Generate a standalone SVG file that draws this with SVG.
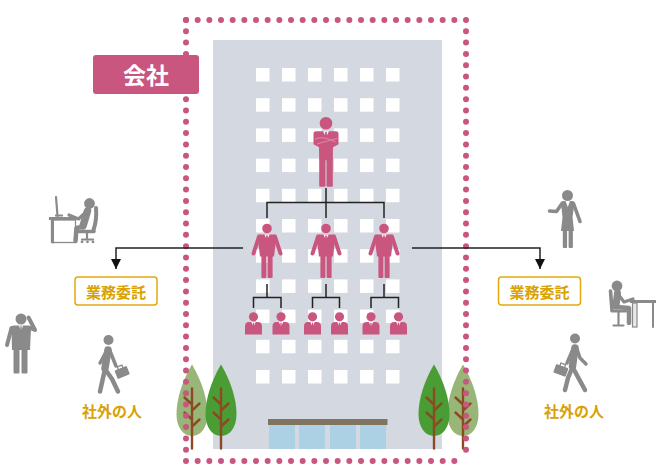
<svg xmlns="http://www.w3.org/2000/svg" width="658" height="464" viewBox="0 0 658 464">
  <style>
    .pink { fill: #c9567f; }
    .grey { fill: #8a8a8a; }
    .gstroke { stroke: #8a8a8a; stroke-linecap: round; stroke-linejoin: round; fill: none; }
    .win { fill: #ffffff; }
    .glass { fill: #acd0e4; }
    .dots { stroke: #c9567f; stroke-width: 6; stroke-linecap: round; fill: none; }
    .wire { stroke: #222222; stroke-width: 1.5; fill: none; }
    .trunk { stroke: #8b4a22; stroke-width: 2.4; stroke-linecap: round; fill: none; }
    .box { fill: #ffffff; stroke: #e3a90d; stroke-width: 1.5; }
    .gold { fill: #d9a200; font-family: "Noto Sans CJK JP", "Noto Sans", sans-serif; font-size: 15px; font-weight: 700; text-anchor: middle; }
  </style>
  <defs>
    <marker id="arrow" markerUnits="userSpaceOnUse" markerWidth="12" markerHeight="10" refX="10" refY="5" orient="auto">
      <path d="M0,0 L10,5 L0,10 Z" fill="#111111"/>
    </marker>
    <!-- standing manager, origin at head centre -->
    <g id="manager">
      <circle cx="0" cy="0" r="4.8" class="pink"/>
      <path class="pink" d="M-7,6 L7,6 Q9,6 9.5,8.5 L7,28 L-7,28 L-9.5,8.5 Q-9,6 -7,6 Z"/>
      <rect class="pink" x="-5.6" y="26" width="5" height="23.5" rx="1"/>
      <rect class="pink" x="0.6" y="26" width="5" height="23.5" rx="1"/>
      <path d="M-8,8 L-13.5,25 M8,8 L13.5,25" stroke="#c9567f" stroke-width="4" stroke-linecap="round"/>
      <path d="M-2.6,6 L0,11.5 L2.6,6 Z" fill="#ffffff"/>
      <path class="pink" d="M-0.8,7 L0.8,7 L1.1,13 L0,14.8 L-1.1,13 Z"/>
    </g>
    <!-- seated staff bust, origin at head centre -->
    <g id="staff">
      <circle cx="0" cy="0" r="4.6" class="pink"/>
      <path class="pink" d="M-8.5,17.6 L-8.5,9.5 Q-8.5,5.2 -4.3,5.2 L4.3,5.2 Q8.5,5.2 8.5,9.5 L8.5,17.6 Z"/>
      <path d="M-2.2,5.2 L0,10 L2.2,5.2 Z" fill="#ffffff"/>
      <path class="pink" d="M-0.6,6 L0.6,6 L0.8,10.5 L0,11.8 L-0.8,10.5 Z"/>
    </g>
    <!-- tree foliage outline, origin at tip -->
    <path id="crown" d="M0,0 C6,10 15.5,30 15.5,50 C15.5,63 8.5,71.5 0,71.5 C-8.5,71.5 -15.5,63 -15.5,50 C-15.5,30 -6,10 0,0 Z"/>
    <path id="branches" d="M0,24 V84 M0,40 L-7.5,33 M0,46 L7.5,39 M0,55 L-7.5,48 M0,62 L7.5,55"/>
  </defs>

  <!-- office building -->
  <g id="building">
    <rect x="213" y="40" width="229" height="409" fill="#d3d8e1"/>
    <g id="windows">
      <rect class="win" x="256" y="68" width="13.5" height="13.5"/><rect class="win" x="282" y="68" width="13.5" height="13.5"/><rect class="win" x="308" y="68" width="13.5" height="13.5"/><rect class="win" x="334" y="68" width="13.5" height="13.5"/><rect class="win" x="360" y="68" width="13.5" height="13.5"/><rect class="win" x="386" y="68" width="13.5" height="13.5"/>
      <rect class="win" x="256" y="98.2" width="13.5" height="13.5"/><rect class="win" x="282" y="98.2" width="13.5" height="13.5"/><rect class="win" x="308" y="98.2" width="13.5" height="13.5"/><rect class="win" x="334" y="98.2" width="13.5" height="13.5"/><rect class="win" x="360" y="98.2" width="13.5" height="13.5"/><rect class="win" x="386" y="98.2" width="13.5" height="13.5"/>
      <rect class="win" x="256" y="128.4" width="13.5" height="13.5"/><rect class="win" x="282" y="128.4" width="13.5" height="13.5"/><rect class="win" x="308" y="128.4" width="13.5" height="13.5"/><rect class="win" x="334" y="128.4" width="13.5" height="13.5"/><rect class="win" x="360" y="128.4" width="13.5" height="13.5"/><rect class="win" x="386" y="128.4" width="13.5" height="13.5"/>
      <rect class="win" x="256" y="158.6" width="13.5" height="13.5"/><rect class="win" x="282" y="158.6" width="13.5" height="13.5"/><rect class="win" x="308" y="158.6" width="13.5" height="13.5"/><rect class="win" x="334" y="158.6" width="13.5" height="13.5"/><rect class="win" x="360" y="158.6" width="13.5" height="13.5"/><rect class="win" x="386" y="158.6" width="13.5" height="13.5"/>
      <rect class="win" x="256" y="188.8" width="13.5" height="13.5"/><rect class="win" x="282" y="188.8" width="13.5" height="13.5"/><rect class="win" x="308" y="188.8" width="13.5" height="13.5"/><rect class="win" x="334" y="188.8" width="13.5" height="13.5"/><rect class="win" x="360" y="188.8" width="13.5" height="13.5"/><rect class="win" x="386" y="188.8" width="13.5" height="13.5"/>
      <rect class="win" x="256" y="219" width="13.5" height="13.5"/><rect class="win" x="282" y="219" width="13.5" height="13.5"/><rect class="win" x="308" y="219" width="13.5" height="13.5"/><rect class="win" x="334" y="219" width="13.5" height="13.5"/><rect class="win" x="360" y="219" width="13.5" height="13.5"/><rect class="win" x="386" y="219" width="13.5" height="13.5"/>
      <rect class="win" x="256" y="249.2" width="13.5" height="13.5"/><rect class="win" x="282" y="249.2" width="13.5" height="13.5"/><rect class="win" x="308" y="249.2" width="13.5" height="13.5"/><rect class="win" x="334" y="249.2" width="13.5" height="13.5"/><rect class="win" x="360" y="249.2" width="13.5" height="13.5"/><rect class="win" x="386" y="249.2" width="13.5" height="13.5"/>
      <rect class="win" x="256" y="279.4" width="13.5" height="13.5"/><rect class="win" x="282" y="279.4" width="13.5" height="13.5"/><rect class="win" x="308" y="279.4" width="13.5" height="13.5"/><rect class="win" x="334" y="279.4" width="13.5" height="13.5"/><rect class="win" x="360" y="279.4" width="13.5" height="13.5"/><rect class="win" x="386" y="279.4" width="13.5" height="13.5"/>
      <rect class="win" x="256" y="309.6" width="13.5" height="13.5"/><rect class="win" x="282" y="309.6" width="13.5" height="13.5"/><rect class="win" x="308" y="309.6" width="13.5" height="13.5"/><rect class="win" x="334" y="309.6" width="13.5" height="13.5"/><rect class="win" x="360" y="309.6" width="13.5" height="13.5"/><rect class="win" x="386" y="309.6" width="13.5" height="13.5"/>
      <rect class="win" x="256" y="339.8" width="13.5" height="13.5"/><rect class="win" x="282" y="339.8" width="13.5" height="13.5"/><rect class="win" x="308" y="339.8" width="13.5" height="13.5"/><rect class="win" x="334" y="339.8" width="13.5" height="13.5"/><rect class="win" x="360" y="339.8" width="13.5" height="13.5"/><rect class="win" x="386" y="339.8" width="13.5" height="13.5"/>
      <rect class="win" x="256" y="370" width="13.5" height="13.5"/><rect class="win" x="282" y="370" width="13.5" height="13.5"/><rect class="win" x="308" y="370" width="13.5" height="13.5"/><rect class="win" x="334" y="370" width="13.5" height="13.5"/><rect class="win" x="360" y="370" width="13.5" height="13.5"/><rect class="win" x="386" y="370" width="13.5" height="13.5"/>
    </g>
    <!-- entrance -->
    <rect x="268" y="419" width="119.5" height="6" fill="#80735f"/>
    <rect class="glass" x="269" y="425" width="26" height="24"/>
    <rect class="glass" x="299" y="425" width="26" height="24"/>
    <rect class="glass" x="330" y="425" width="26" height="24"/>
    <rect class="glass" x="360" y="425" width="26" height="24"/>
  </g>

  <!-- trees -->
  <g id="trees">
    <g transform="translate(192,364.5)"><use href="#crown" fill="#98b678"/><use href="#branches" class="trunk"/></g>
    <g transform="translate(221,364.5)"><use href="#crown" fill="#4a9d35"/><use href="#branches" class="trunk"/></g>
    <g transform="translate(463,364.5)"><use href="#crown" fill="#98b678"/><use href="#branches" class="trunk"/></g>
    <g transform="translate(434,364.5)"><use href="#crown" fill="#4a9d35"/><use href="#branches" class="trunk"/></g>
  </g>

  <!-- company boundary -->
  <g id="boundary">
    <path class="dots" d="M186,20 H466" stroke-dasharray="0 11.667"/>
    <path class="dots" d="M186,461 H466" stroke-dasharray="0 11.667"/>
    <path class="dots" d="M186,20 V461" stroke-dasharray="0 11.3077"/>
    <path class="dots" d="M466,20 V461" stroke-dasharray="0 11.3077"/>
  </g>

  <g id="company-label">
    <rect x="93" y="55" width="106" height="39" rx="3" class="pink"/>
    <text x="146" y="84" fill="#ffffff" font-family="'Noto Sans CJK JP', 'Noto Sans', sans-serif" font-size="23" font-weight="700" text-anchor="middle">会社</text>
  </g>

  <!-- org chart -->
  <g id="president">
    <circle cx="326" cy="123.3" r="6.3" class="pink"/>
    <path class="pink" d="M316,131.3 L336,131.3 Q338.5,131.3 338.5,134.3 L338.5,144.3 L333,147.3 L332.8,160.3 L319.2,160.3 L319,147.3 L313.5,144.3 L313.5,134.3 Q313.5,131.3 316,131.3 Z"/>
    <rect class="pink" x="319.2" y="159" width="6.3" height="27.8" rx="1"/>
    <rect class="pink" x="326.5" y="159" width="6.3" height="27.8" rx="1"/>
    <path d="M315,139 Q324,135.5 335.5,142 M317,144 Q326,141 337,138.5" stroke="#e58bab" stroke-width="0.9" fill="none"/>
    <path d="M323,131.3 L326,137 L329,131.3 Z" fill="#ffffff"/>
    <path class="pink" d="M325.2,132 L326.8,132 L327,136.5 L326,137.8 L325,136.5 Z"/>
  </g>
  <g id="manager-1"><use href="#manager" x="267" y="228.5"/></g>
  <g id="manager-2"><use href="#manager" x="326" y="228.5"/></g>
  <g id="manager-3"><use href="#manager" x="384" y="228.5"/></g>
  <g id="staff-1"><use href="#staff" x="253.5" y="316.8"/></g>
  <g id="staff-2"><use href="#staff" x="281" y="316.8"/></g>
  <g id="staff-3"><use href="#staff" x="312.5" y="316.8"/></g>
  <g id="staff-4"><use href="#staff" x="339.5" y="316.8"/></g>
  <g id="staff-5"><use href="#staff" x="371" y="316.8"/></g>
  <g id="staff-6"><use href="#staff" x="398.5" y="316.8"/></g>

  <!-- outsourcing boxes -->
  <g id="outsource-left">
    <rect class="box" x="75" y="277" width="82" height="28" rx="3"/>
    <text class="gold" x="116" y="297.5">業務委託</text>
  </g>
  <g id="outsource-right">
    <rect class="box" x="498.5" y="277" width="82" height="28" rx="3"/>
    <text class="gold" x="539.5" y="297.5">業務委託</text>
  </g>

  <!-- outside people, left -->
  <g id="desk-worker-left">
    <path d="M56,197 L57.5,216" class="gstroke" stroke-width="2.2"/>
    <rect class="grey" x="55" y="214.5" width="8" height="2"/>
    <rect class="grey" x="49" y="217" width="27" height="3"/>
    <rect x="51.5" y="220" width="24" height="22.5" fill="#ffffff" stroke="#8a8a8a" stroke-width="1.3"/>
    <path d="M53,220 V242.5" class="gstroke" stroke-width="2"/>
    <circle class="grey" cx="89.5" cy="203.5" r="5.4"/>
    <path d="M87.5,211 L83,226" class="gstroke" stroke-width="7.5"/>
    <path d="M86,212 L78.5,219 L69,215" class="gstroke" stroke-width="3.2"/>
    <path d="M82,227 L76.5,228 L75.5,241" class="gstroke" stroke-width="4.5"/>
    <path d="M96,208 Q97,220 93.5,230" class="gstroke" stroke-width="4"/>
    <path d="M79,231.5 L94,231.5" class="gstroke" stroke-width="3.5"/>
    <path d="M87,233 V238.5 M82,239.5 H93" class="gstroke" stroke-width="2.2"/>
    <circle class="grey" cx="82" cy="241.8" r="1.4"/><circle class="grey" cx="87.5" cy="241.8" r="1.4"/><circle class="grey" cx="93" cy="241.8" r="1.4"/>
  </g>
  <g id="phone-man-left">
    <circle class="grey" cx="21" cy="319" r="5.5"/>
    <path class="grey" d="M14,325.5 L29,325.5 Q31,325.5 31,328 L30,350 L12,350 L11.5,328 Q11.5,325.5 14,325.5 Z"/>
    <rect class="grey" x="13.5" y="348" width="6" height="25.5" rx="1"/>
    <rect class="grey" x="21.5" y="348" width="6" height="25.5" rx="1"/>
    <path d="M11.5,328 L7,345" class="gstroke" stroke-width="4"/>
    <path d="M30,328 L35,330 L28.5,317.5" class="gstroke" stroke-width="4"/>
    <path d="M18.8,325.5 L21,330.5 L23.2,325.5 Z" fill="#ffffff"/>
    <path class="grey" d="M20.4,326 L21.6,326 L21.8,330.5 L21,331.5 L20.2,330.5 Z"/>
  </g>
  <g id="walker-left">
    <circle class="grey" cx="108.5" cy="340" r="5"/>
    <path d="M108,350 L105,368" class="gstroke" stroke-width="7.5"/>
    <path d="M105,369 L100,391.5" class="gstroke" stroke-width="4.5"/>
    <path d="M105,369 L112,379 L118,391.5" class="gstroke" stroke-width="4.5"/>
    <path d="M106.5,351 L100,363" class="gstroke" stroke-width="3.5"/>
    <path d="M110,351 L116,366" class="gstroke" stroke-width="3.5"/>
    <g transform="rotate(-22 122 372)">
      <rect class="grey" x="115.5" y="368" width="13" height="9" rx="1"/>
      <rect x="119.5" y="365.5" width="5" height="3.5" fill="none" stroke="#8a8a8a" stroke-width="1.3"/>
    </g>
  </g>
  <text class="gold" x="112" y="416.5">社外の人</text>

  <!-- outside people, right -->
  <g id="woman-right">
    <circle class="grey" cx="567.5" cy="195.5" r="5.5"/>
    <path class="grey" d="M563,201 L572.5,201 Q574.5,201 574.5,203.5 L572.5,217 L574,231 L561,231 L562.5,217 L561,203.5 Q561,201 563,201 Z"/>
    <rect class="grey" x="562.8" y="229" width="4.3" height="19" rx="1"/>
    <rect class="grey" x="568.6" y="229" width="4.3" height="19" rx="1"/>
    <path d="M562,203.5 L556.5,211.5 L549.5,211" class="gstroke" stroke-width="3.6"/>
    <path d="M573.5,203.5 L580,221.5" class="gstroke" stroke-width="3.6"/>
    <path d="M565.5,201 L567.8,207 L570,201 Z" fill="#ffffff"/>
  </g>
  <g id="desk-worker-right">
    <circle class="grey" cx="617" cy="286" r="5.4"/>
    <path d="M617.5,293 L616,306" class="gstroke" stroke-width="7"/>
    <path d="M618,294 L624,302 L633,299" class="gstroke" stroke-width="3.2"/>
    <path d="M617,307 L629,308 L629,323" class="gstroke" stroke-width="4.5"/>
    <path d="M610.5,291 L612,310" class="gstroke" stroke-width="3.6"/>
    <path d="M612,311 L626,311" class="gstroke" stroke-width="3.2"/>
    <path d="M618.5,312 V324 M613.5,325.5 H623.5" class="gstroke" stroke-width="2.2"/>
    <rect class="grey" x="630" y="300" width="26" height="3"/>
    <rect x="632.5" y="303" width="4.5" height="24" fill="#e8e8e8" stroke="#8a8a8a" stroke-width="1.2"/>
    <path d="M653,303 V327" class="gstroke" stroke-width="2"/>
  </g>
  <g id="walker-right">
    <circle class="grey" cx="575" cy="338.5" r="5"/>
    <path d="M575,348 L572.5,366" class="gstroke" stroke-width="7.5"/>
    <path d="M572.5,367 L568,378 L565,390" class="gstroke" stroke-width="4.5"/>
    <path d="M572.5,367 L585,390" class="gstroke" stroke-width="4.5"/>
    <path d="M573,349 L567,363" class="gstroke" stroke-width="3.5"/>
    <path d="M577,349 L580,358 L586,364" class="gstroke" stroke-width="3.5"/>
    <g transform="rotate(20 561 370)">
      <rect class="grey" x="554.5" y="366" width="13" height="9" rx="1"/>
      <rect x="558.5" y="363.5" width="5" height="3.5" fill="none" stroke="#8a8a8a" stroke-width="1.3"/>
    </g>
  </g>
  <text class="gold" x="574" y="416.5">社外の人</text>

  <!-- connectors -->
  <g id="connectors">
    <path class="wire" d="M326,188 V202.5 M267,218 V202.5 H384 V218 M326,202.5 V218"/>
    <path class="wire" d="M267,284 V297.5 M253.5,308 V297.5 H281 V308"/>
    <path class="wire" d="M326,284 V297.5 M312.5,308 V297.5 H339.5 V308"/>
    <path class="wire" d="M384,284 V297.5 M371,308 V297.5 H398.5 V308"/>
    <path class="wire" d="M243,248 H116 V269" marker-end="url(#arrow)"/>
    <path class="wire" d="M412,248 H540 V269" marker-end="url(#arrow)"/>
  </g>
</svg>
